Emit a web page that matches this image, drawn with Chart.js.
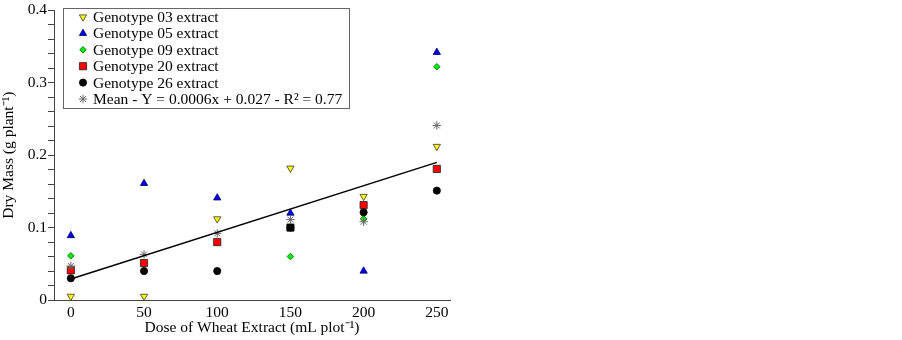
<!DOCTYPE html>
<html>
<head>
<meta charset="utf-8">
<script src="https://cdn.jsdelivr.net/npm/chart.js@4.4.1/dist/chart.umd.min.js"></script>
<style>
  body { margin: 0; background: #fff; }
  #wrap { position: relative; width: 902px; height: 340px; }
</style>
</head>
<body>
<div id="wrap"><canvas id="dryChart"></canvas></div>
<script>
// doses (mL plot-1)
var doses = [0, 50, 100, 150, 200, 250];

// dry mass per genotype (g plant-1)
var geno03 = [0.005, 0.005, 0.112, 0.182, 0.143, 0.212];
var geno05 = [0.089, 0.161, 0.141, 0.12, 0.04, 0.342];
var geno09 = [0.061, 0.05, 0.08, 0.06, 0.112, 0.322];
var geno20 = [0.041, 0.051, 0.08, 0.10, 0.131, 0.181];
var geno26 = [0.03, 0.04, 0.04, 0.10, 0.121, 0.151];
var means = [0.047, 0.063, 0.092, 0.111, 0.108, 0.241];

// fitted line end points
var fitX = [0, 250];
var fitY = [0.029, 0.19];

var yTicks = [0, 0.1, 0.2, 0.3, 0.4];
var xTicks = [0, 50, 100, 150, 200, 250];

var legendLabels = [
    "Genotype 03 extract",
    "Genotype 05 extract",
    "Genotype 09 extract",
    "Genotype 20 extract",
    "Genotype 26 extract",
    "Mean - Y = 0.0006x + 0.027 - R\u00b2 = 0.77"
];

function pts(ys) {
    var out = [];
    for (let i = 0; i < doses.length; i++) out.push({ x: doses[i], y: ys[i] });
    return out;
}

var fitPts = [];
for (let i = 0; i < fitX.length; i++) fitPts.push({ x: fitX[i], y: fitY[i] });

var serif = "'Liberation Serif', 'Times New Roman', serif";

// genotype 20 at dose 150 is drawn black in the original
var g20fill = ["#ff0000", "#ff0000", "#ff0000", "#000000", "#ff0000", "#ff0000"];

// order: lower number is drawn on top
var sets = [
    { label: legendLabels[0], data: pts(geno03), pointStyle: "triangle", rotation: 180, pointRadius: 4.2,
      backgroundColor: "#ffff00", borderColor: "#333", borderWidth: 0.8, order: 6 },
    { label: legendLabels[1], data: pts(geno05), pointStyle: "triangle", rotation: 0, pointRadius: 4.2,
      backgroundColor: "#0000ee", borderColor: "#000066", borderWidth: 0.8, order: 5 },
    { label: legendLabels[2], data: pts(geno09), pointStyle: "rectRot", rotation: 0, pointRadius: 3.3,
      backgroundColor: "#00ee00", borderColor: "#006600", borderWidth: 0.8, order: 7 },
    { label: legendLabels[3], data: pts(geno20), pointStyle: "rect", rotation: 0, pointRadius: 5.1,
      backgroundColor: g20fill, borderColor: "#222", borderWidth: 0.8, order: 4 },
    { label: legendLabels[4], data: pts(geno26), pointStyle: "circle", rotation: 0, pointRadius: 3.6,
      backgroundColor: "#000000", borderColor: "#000000", borderWidth: 0.8, order: 3 },
    { label: legendLabels[5], data: pts(means), pointStyle: "star", rotation: 0, pointRadius: 4.2,
      backgroundColor: "#666", borderColor: "#666", borderWidth: 1, order: 2 }
];

var datasets = sets.map(function (s) {
    return {
        type: "scatter",
        label: s.label,
        data: s.data,
        pointStyle: s.pointStyle,
        rotation: s.rotation,
        pointRadius: s.pointRadius,
        pointHoverRadius: s.pointRadius,
        pointBackgroundColor: s.backgroundColor,
        pointBorderColor: s.borderColor,
        pointBorderWidth: s.borderWidth,
        showLine: false,
        order: s.order
    };
});

datasets.push({
    type: "line",
    label: "fit",
    data: fitPts,
    borderColor: "#000",
    borderWidth: 1.5,
    pointRadius: 0,
    fill: false,
    order: 1
});

// legend box drawn inside the plot, top left
var boxLegend = {
    id: "boxLegend",
    afterDraw: function (chart) {
        var ctx = chart.ctx;
        ctx.save();
        ctx.strokeStyle = "#666";
        ctx.lineWidth = 1;
        ctx.fillStyle = "#fff";
        ctx.fillRect(63.5, 8.5, 286, 100);
        ctx.strokeRect(63.5, 8.5, 286, 100);
        for (let i = 0; i < sets.length; i++) {
            var s = sets[i];
            var y = 17 + i * 16.4;
            ctx.fillStyle = Array.isArray(s.backgroundColor) ? s.backgroundColor[0] : s.backgroundColor;
            ctx.strokeStyle = s.borderColor;
            ctx.lineWidth = s.borderWidth;
            Chart.helpers.drawPoint(ctx, {
                pointStyle: s.pointStyle,
                rotation: s.rotation,
                radius: s.pointRadius,
                borderWidth: s.borderWidth
            }, 83, y);
            ctx.fillStyle = "#000";
            ctx.font = "15.5px " + serif;
            ctx.textBaseline = "middle";
            ctx.textAlign = "left";
            ctx.fillText(s.label, 93, y + 1);
        }
        ctx.restore();
    }
};

new Chart(document.getElementById("dryChart"), {
    data: { datasets: datasets },
    options: {
        responsive: true,
        maintainAspectRatio: false,
        animation: false,
        layout: { padding: { top: 9, right: 452, left: 0, bottom: 0 } },
        plugins: {
            legend: { display: false },
            tooltip: { enabled: false }
        },
        scales: {
            x: {
                type: "linear",
                min: -11.5,
                max: 259,
                afterBuildTicks: function (axis) {
                    axis.ticks = xTicks.map(function (v) { return { value: v }; });
                },
                afterFit: function (axis) { axis.height = 40; },
                grid: { display: false, drawTicks: false },
                border: { display: true, color: "#444", width: 1 },
                ticks: {
                    color: "#000",
                    font: { family: serif, size: 15.5 },
                    padding: 4,
                    maxRotation: 0,
                    autoSkip: false
                },
                title: {
                    display: true,
                    text: "Dose of Wheat Extract (mL plot\u207b\u00b9)",
                    color: "#000",
                    font: { family: serif, size: 15.5 },
                    padding: { top: 0, bottom: 3 }
                }
            },
            y: {
                type: "linear",
                min: 0,
                max: 0.4,
                afterFit: function (axis) { axis.width = 54; },
                ticks: {
                    stepSize: 0.02,
                    autoSkip: false,
                    color: "#000",
                    font: { family: serif, size: 15.5 },
                    padding: 1,
                    callback: function (v) {
                        var r = Math.round(v * 100) / 100;
                        for (let i = 0; i < yTicks.length; i++) {
                            if (Math.abs(yTicks[i] - r) < 1e-6) return r === 0 ? "0" : String(r);
                        }
                        return "";
                    }
                },
                grid: {
                    drawOnChartArea: false,
                    drawTicks: true,
                    tickLength: 6,
                    tickColor: "#444"
                },
                border: { display: true, color: "#444", width: 1 },
                title: {
                    display: true,
                    text: "Dry Mass (g plant\u207b\u00b9)",
                    color: "#000",
                    font: { family: serif, size: 15.5 },
                    padding: { top: 0, bottom: 2 }
                }
            }
        }
    },
    plugins: [boxLegend]
});
</script>
</body>
</html>
